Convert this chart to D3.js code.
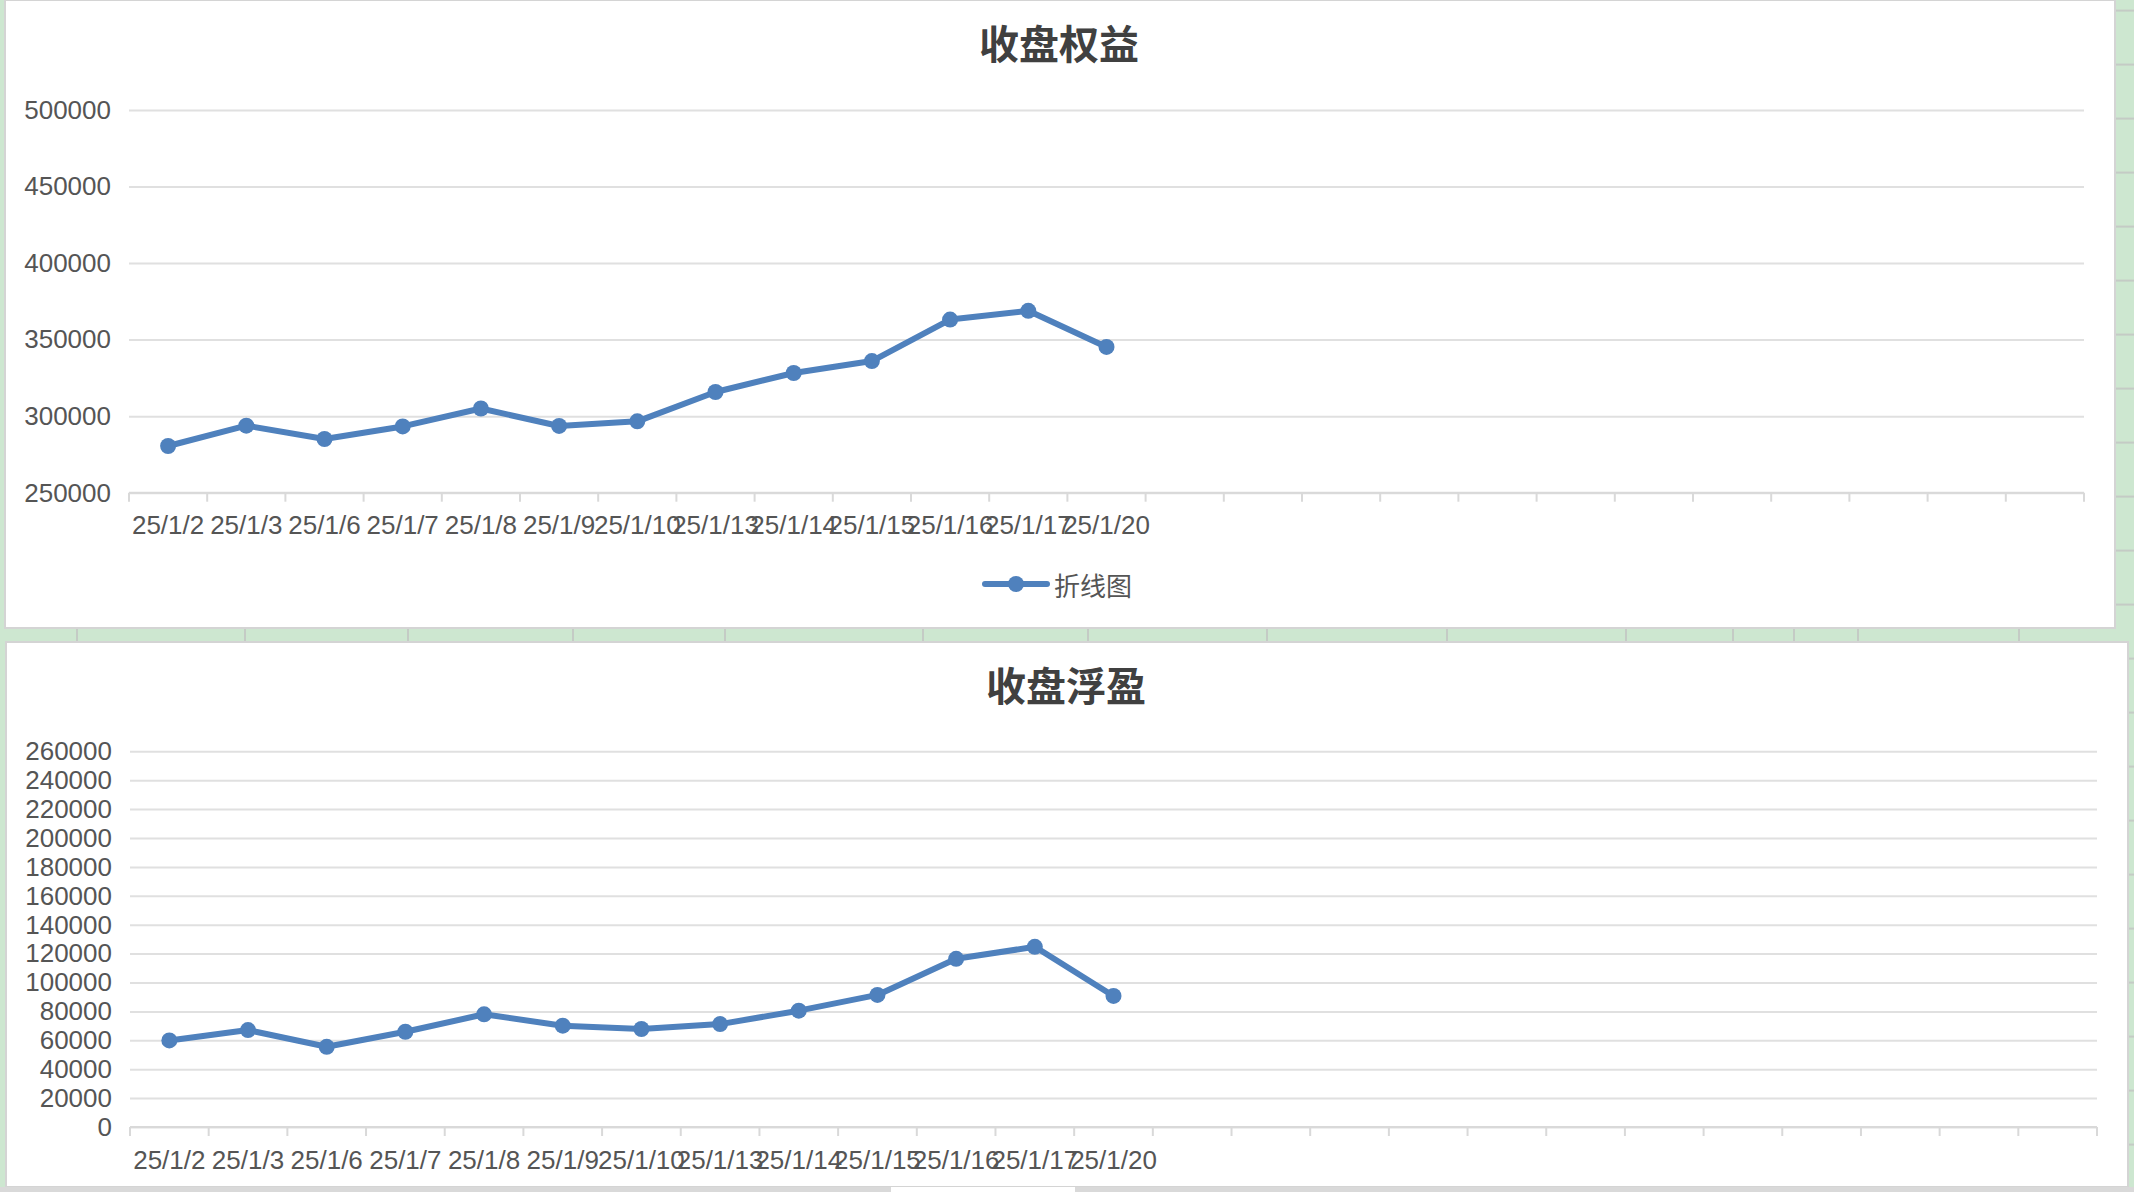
<!DOCTYPE html>
<html>
<head>
<meta charset="utf-8">
<script src="https://cdn.jsdelivr.net/npm/d3@7"></script>
<style>
  html, body { margin: 0; padding: 0; background: #cde7d0; overflow: hidden; }
  svg { display: block; }
</style>
</head>
<body>
<script>

// chart values
var dates = ["25/1/2", "25/1/3", "25/1/6", "25/1/7", "25/1/8", "25/1/9", "25/1/10",
             "25/1/13", "25/1/14", "25/1/15", "25/1/16", "25/1/17", "25/1/20"]
var equity = [280500, 293800, 285100, 293300, 305000, 293600, 296600,
              315800, 328200, 336000, 363100, 368800, 345200]
var floating = [59900, 67100, 55500, 65900, 78000, 70100, 67800,
                71200, 80500, 91400, 116400, 124700, 90700]
var equityTicks = [250000, 300000, 350000, 400000, 450000, 500000]
var floatingTicks = [0, 20000, 40000, 60000, 80000, 100000, 120000, 140000,
                     160000, 180000, 200000, 220000, 240000, 260000]
var titles = ["收盘权益", "收盘浮盈"]
var legendLabel = "折线图"
var emptySlots = 12   // blank categories the sheet range still reserves

var width = 2134, height = 1192
var blue = "#4f81bd"
var textColor = "#555555"
var latin = "'Liberation Sans', Arial, Helvetica, sans-serif"
var cjk = "'Noto Sans CJK SC', 'Noto Sans', sans-serif"

var svg = d3.select("body").append("svg")
    .attr("width", width)
    .attr("height", height)

// spreadsheet behind the charts
var sheet = svg.append("g")
sheet.append("rect")
    .attr("width", width).attr("height", height)
    .attr("fill", "#cde7d0")
var colLines = [77, 245, 408, 573, 725, 923, 1088, 1267, 1447, 1626, 1733, 1794, 1858, 2019]
sheet.selectAll(".col").data(colLines).enter().append("line")
    .attr("x1", function(d) { return d }).attr("x2", function(d) { return d })
    .attr("y1", 628).attr("y2", 642)
    .attr("stroke", "#c4cbc5").attr("stroke-width", 2)
sheet.selectAll(".row").data(d3.range(10.6, height, 54)).enter().append("line")
    .attr("x1", 2112).attr("x2", width)
    .attr("y1", function(d) { return d }).attr("y2", function(d) { return d })
    .attr("stroke", "#c4cbc5").attr("stroke-width", 2)

// the two chart panels
svg.append("rect")
    .attr("x", 5).attr("y", 0).attr("width", 2110).attr("height", 628)
    .attr("fill", "#fff").attr("stroke", "#d4d4d4").attr("stroke-width", 2)
svg.append("rect")
    .attr("x", 6).attr("y", 642).attr("width", 2122).attr("height", 545)
    .attr("fill", "#fff").attr("stroke", "#d4d4d4").attr("stroke-width", 2)
svg.append("rect")
    .attr("x", 0).attr("y", 1187).attr("width", width).attr("height", 5)
    .attr("fill", "#d9d9d9")
svg.append("rect")
    .attr("x", 891).attr("y", 1187).attr("width", 184).attr("height", 5)
    .attr("fill", "#fff")

var slots = dates.concat(d3.range(emptySlots).map(function(i) { return "blank" + i }))

function drawChart(opt) {
  var x = d3.scaleBand()
      .domain(slots)
      .range([opt.left, opt.right])
  var y = d3.scaleLinear()
      .domain(d3.extent(opt.ticks))
      .range([opt.bottom, opt.top])

  var g = svg.append("g")

  // title
  g.append("text")
      .attr("x", opt.titleX).attr("y", opt.titleY)
      .attr("text-anchor", "middle")
      .attr("dominant-baseline", "central")
      .style("font-family", cjk)
      .style("font-weight", 700)
      .style("font-size", "40px")
      .style("fill", "#404040")
      .text(opt.title)

  // gridlines + y labels
  var yAxis = g.append("g")
      .attr("transform", "translate(" + opt.left + ",0)")
      .call(d3.axisLeft(y)
        .tickValues(opt.ticks)
        .tickSize(-(opt.right - opt.left))
        .tickPadding(18)
        .tickFormat(d3.format("d")))
  yAxis.select(".domain").remove()
  yAxis.selectAll(".tick line")
      .attr("stroke", "#e0e0e0").attr("stroke-width", 2)
  yAxis.selectAll(".tick text")
      .style("font-family", latin)
      .style("font-size", "26px")
      .style("fill", textColor)

  // category axis: line, ticks between categories, labels at centres
  g.append("line")
      .attr("x1", opt.left).attr("x2", opt.right)
      .attr("y1", opt.bottom).attr("y2", opt.bottom)
      .attr("stroke", "#d9d9d9").attr("stroke-width", 2)
  g.selectAll(".xtick")
      .data(slots.concat(["end"]))
    .enter().append("line")
      .attr("x1", function(d) { return d == "end" ? opt.right : x(d) })
      .attr("x2", function(d) { return d == "end" ? opt.right : x(d) })
      .attr("y1", opt.bottom).attr("y2", opt.bottom + 9)
      .attr("stroke", "#d9d9d9").attr("stroke-width", 2)
  g.selectAll(".xlabel")
      .data(dates)
    .enter().append("text")
      .attr("x", function(d) { return x(d) + x.bandwidth() / 2 })
      .attr("y", opt.labelY)
      .attr("text-anchor", "middle")
      .attr("dominant-baseline", "central")
      .style("font-family", latin)
      .style("font-size", "26px")
      .style("fill", textColor)
      .text(function(d) { return d })

  // series
  var line = d3.line()
      .x(function(d, i) { return x(dates[i]) + x.bandwidth() / 2 })
      .y(function(d) { return y(d) })
  g.append("path")
      .datum(opt.values)
      .attr("d", line)
      .attr("fill", "none")
      .attr("stroke", blue)
      .attr("stroke-width", 6)
      .attr("stroke-linejoin", "round")
      .attr("stroke-linecap", "round")
  g.selectAll(".pt")
      .data(opt.values)
    .enter().append("circle")
      .attr("cx", function(d, i) { return x(dates[i]) + x.bandwidth() / 2 })
      .attr("cy", function(d) { return y(d) })
      .attr("r", 8)
      .attr("fill", blue)

  if (opt.legend) {
    var lg = g.append("g").attr("transform", "translate(985," + opt.legendY + ")")
    lg.append("line")
        .attr("x1", 0).attr("x2", 62)
        .attr("stroke", blue).attr("stroke-width", 6).attr("stroke-linecap", "round")
    lg.append("circle").attr("cx", 31).attr("r", 8).attr("fill", blue)
    lg.append("text")
        .attr("x", 69).attr("y", 0)
        .attr("dominant-baseline", "central")
        .style("font-family", cjk)
        .style("font-size", "26px")
        .style("fill", textColor)
        .text(legendLabel)
  }
}

drawChart({
  title: titles[0], values: equity, ticks: equityTicks,
  left: 129, right: 2084, top: 110, bottom: 492.7,
  titleX: 1059, titleY: 42, labelY: 525, legend: true, legendY: 584
})

drawChart({
  title: titles[1], values: floating, ticks: floatingTicks,
  left: 130, right: 2097, top: 751.3, bottom: 1127,
  titleX: 1066, titleY: 684, labelY: 1160, legend: false
})

</script>
</body>
</html>
